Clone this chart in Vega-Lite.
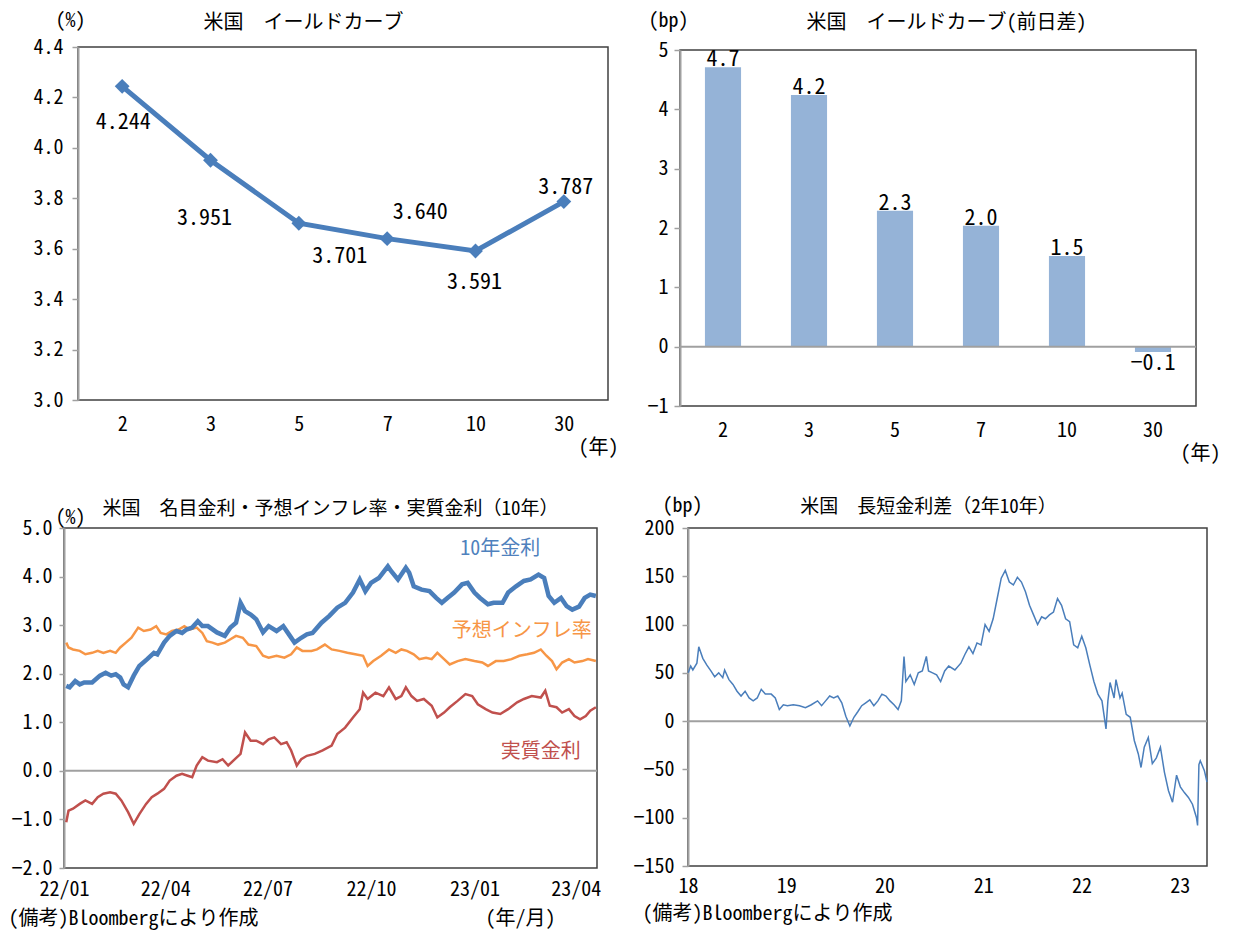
{
  "$schema": "https://vega.github.io/schema/vega-lite/v6.json",
  "background": "white",
  "padding": {"left": 5, "top": 9, "right": 5, "bottom": 5},
  "spacing": 30,
  "datasets": {
    "nominal": [
      {"date":"2022-01-03","value":1.75},{"date":"2022-01-06","value":1.72},{"date":"2022-01-11","value":1.85},{"date":"2022-01-15","value":1.78},{"date":"2022-01-19","value":1.82},{"date":"2022-01-26","value":1.82},{"date":"2022-02-02","value":1.96},{"date":"2022-02-07","value":2.02},{"date":"2022-02-12","value":1.96},{"date":"2022-02-16","value":1.99},{"date":"2022-02-20","value":1.92},{"date":"2022-02-23","value":1.78},{"date":"2022-02-27","value":1.72},{"date":"2022-03-04","value":1.96},{"date":"2022-03-09","value":2.16},{"date":"2022-03-16","value":2.30},{"date":"2022-03-22","value":2.43},{"date":"2022-03-25","value":2.40},{"date":"2022-03-31","value":2.64},{"date":"2022-04-05","value":2.78},{"date":"2022-04-11","value":2.88},{"date":"2022-04-16","value":2.84},{"date":"2022-04-20","value":2.91},{"date":"2022-04-25","value":2.95},{"date":"2022-04-30","value":3.08},{"date":"2022-05-04","value":2.98},{"date":"2022-05-09","value":2.98},{"date":"2022-05-17","value":2.85},{"date":"2022-05-24","value":2.78},{"date":"2022-05-29","value":2.95},{"date":"2022-06-03","value":3.05},{"date":"2022-06-07","value":3.46},{"date":"2022-06-11","value":3.29},{"date":"2022-06-16","value":3.22},{"date":"2022-06-21","value":3.12},{"date":"2022-06-27","value":2.85},{"date":"2022-07-02","value":2.98},{"date":"2022-07-09","value":2.88},{"date":"2022-07-15","value":2.98},{"date":"2022-07-20","value":2.81},{"date":"2022-07-25","value":2.64},{"date":"2022-07-31","value":2.74},{"date":"2022-08-05","value":2.81},{"date":"2022-08-10","value":2.84},{"date":"2022-08-18","value":3.05},{"date":"2022-08-25","value":3.19},{"date":"2022-09-01","value":3.36},{"date":"2022-09-08","value":3.46},{"date":"2022-09-15","value":3.67},{"date":"2022-09-21","value":3.94},{"date":"2022-09-26","value":3.70},{"date":"2022-10-01","value":3.87},{"date":"2022-10-08","value":3.97},{"date":"2022-10-16","value":4.21},{"date":"2022-10-19","value":4.11},{"date":"2022-10-25","value":3.94},{"date":"2022-11-01","value":4.18},{"date":"2022-11-04","value":4.08},{"date":"2022-11-08","value":3.80},{"date":"2022-11-15","value":3.73},{"date":"2022-11-22","value":3.70},{"date":"2022-11-28","value":3.56},{"date":"2022-12-03","value":3.46},{"date":"2022-12-08","value":3.56},{"date":"2022-12-14","value":3.67},{"date":"2022-12-21","value":3.84},{"date":"2022-12-26","value":3.87},{"date":"2023-01-01","value":3.67},{"date":"2023-01-06","value":3.56},{"date":"2023-01-13","value":3.43},{"date":"2023-01-18","value":3.46},{"date":"2023-01-26","value":3.46},{"date":"2023-01-31","value":3.67},{"date":"2023-02-07","value":3.80},{"date":"2023-02-14","value":3.91},{"date":"2023-02-20","value":3.94},{"date":"2023-02-27","value":4.04},{"date":"2023-03-04","value":3.97},{"date":"2023-03-08","value":3.60},{"date":"2023-03-13","value":3.46},{"date":"2023-03-19","value":3.56},{"date":"2023-03-24","value":3.39},{"date":"2023-03-29","value":3.32},{"date":"2023-04-04","value":3.38},{"date":"2023-04-09","value":3.56},{"date":"2023-04-14","value":3.63},{"date":"2023-04-19","value":3.60}
    ],
    "breakeven": [
      {"date":"2022-01-03","value":2.64},{"date":"2022-01-05","value":2.54},{"date":"2022-01-09","value":2.50},{"date":"2022-01-15","value":2.47},{"date":"2022-01-20","value":2.40},{"date":"2022-01-26","value":2.43},{"date":"2022-01-31","value":2.47},{"date":"2022-02-05","value":2.43},{"date":"2022-02-11","value":2.47},{"date":"2022-02-16","value":2.43},{"date":"2022-02-20","value":2.54},{"date":"2022-02-25","value":2.64},{"date":"2022-03-02","value":2.74},{"date":"2022-03-08","value":2.95},{"date":"2022-03-13","value":2.88},{"date":"2022-03-19","value":2.91},{"date":"2022-03-24","value":2.98},{"date":"2022-03-28","value":2.84},{"date":"2022-04-02","value":2.81},{"date":"2022-04-07","value":2.88},{"date":"2022-04-13","value":2.91},{"date":"2022-04-18","value":2.98},{"date":"2022-04-23","value":2.91},{"date":"2022-04-29","value":2.95},{"date":"2022-05-04","value":2.84},{"date":"2022-05-08","value":2.67},{"date":"2022-05-13","value":2.64},{"date":"2022-05-18","value":2.60},{"date":"2022-05-24","value":2.64},{"date":"2022-05-29","value":2.71},{"date":"2022-06-03","value":2.78},{"date":"2022-06-09","value":2.74},{"date":"2022-06-14","value":2.60},{"date":"2022-06-21","value":2.57},{"date":"2022-06-27","value":2.37},{"date":"2022-07-02","value":2.33},{"date":"2022-07-09","value":2.37},{"date":"2022-07-16","value":2.33},{"date":"2022-07-22","value":2.40},{"date":"2022-07-27","value":2.54},{"date":"2022-08-01","value":2.47},{"date":"2022-08-09","value":2.47},{"date":"2022-08-14","value":2.50},{"date":"2022-08-21","value":2.60},{"date":"2022-08-27","value":2.50},{"date":"2022-09-03","value":2.47},{"date":"2022-09-10","value":2.43},{"date":"2022-09-17","value":2.40},{"date":"2022-09-24","value":2.37},{"date":"2022-09-28","value":2.16},{"date":"2022-10-03","value":2.26},{"date":"2022-10-10","value":2.37},{"date":"2022-10-17","value":2.50},{"date":"2022-10-23","value":2.43},{"date":"2022-10-28","value":2.50},{"date":"2022-11-02","value":2.47},{"date":"2022-11-08","value":2.40},{"date":"2022-11-13","value":2.30},{"date":"2022-11-19","value":2.33},{"date":"2022-11-24","value":2.30},{"date":"2022-11-29","value":2.43},{"date":"2022-12-05","value":2.30},{"date":"2022-12-10","value":2.19},{"date":"2022-12-17","value":2.26},{"date":"2022-12-24","value":2.30},{"date":"2023-01-01","value":2.26},{"date":"2023-01-08","value":2.23},{"date":"2023-01-13","value":2.16},{"date":"2023-01-20","value":2.26},{"date":"2023-01-27","value":2.26},{"date":"2023-02-03","value":2.30},{"date":"2023-02-10","value":2.37},{"date":"2023-02-17","value":2.40},{"date":"2023-02-23","value":2.43},{"date":"2023-03-01","value":2.50},{"date":"2023-03-06","value":2.37},{"date":"2023-03-11","value":2.26},{"date":"2023-03-15","value":2.09},{"date":"2023-03-20","value":2.23},{"date":"2023-03-26","value":2.30},{"date":"2023-03-31","value":2.23},{"date":"2023-04-07","value":2.26},{"date":"2023-04-12","value":2.30},{"date":"2023-04-19","value":2.26}
    ],
    "real": [
      {"date":"2022-01-03","value":-1.06},{"date":"2022-01-05","value":-0.82},{"date":"2022-01-09","value":-0.78},{"date":"2022-01-15","value":-0.68},{"date":"2022-01-20","value":-0.61},{"date":"2022-01-26","value":-0.68},{"date":"2022-01-31","value":-0.54},{"date":"2022-02-05","value":-0.47},{"date":"2022-02-11","value":-0.44},{"date":"2022-02-16","value":-0.47},{"date":"2022-02-21","value":-0.61},{"date":"2022-02-27","value":-0.85},{"date":"2022-03-04","value":-1.09},{"date":"2022-03-09","value":-0.89},{"date":"2022-03-15","value":-0.68},{"date":"2022-03-20","value":-0.54},{"date":"2022-03-25","value":-0.47},{"date":"2022-03-31","value":-0.37},{"date":"2022-04-05","value":-0.20},{"date":"2022-04-11","value":-0.10},{"date":"2022-04-16","value":-0.06},{"date":"2022-04-21","value":-0.10},{"date":"2022-04-25","value":-0.13},{"date":"2022-04-29","value":0.11},{"date":"2022-05-04","value":0.28},{"date":"2022-05-09","value":0.21},{"date":"2022-05-17","value":0.18},{"date":"2022-05-22","value":0.24},{"date":"2022-05-27","value":0.11},{"date":"2022-06-02","value":0.24},{"date":"2022-06-07","value":0.35},{"date":"2022-06-11","value":0.79},{"date":"2022-06-16","value":0.62},{"date":"2022-06-21","value":0.62},{"date":"2022-06-27","value":0.55},{"date":"2022-07-02","value":0.65},{"date":"2022-07-07","value":0.69},{"date":"2022-07-13","value":0.55},{"date":"2022-07-18","value":0.59},{"date":"2022-07-22","value":0.42},{"date":"2022-07-27","value":0.11},{"date":"2022-07-31","value":0.24},{"date":"2022-08-05","value":0.31},{"date":"2022-08-12","value":0.35},{"date":"2022-08-19","value":0.42},{"date":"2022-08-27","value":0.52},{"date":"2022-09-01","value":0.76},{"date":"2022-09-08","value":0.89},{"date":"2022-09-15","value":1.10},{"date":"2022-09-21","value":1.27},{"date":"2022-09-24","value":1.61},{"date":"2022-09-28","value":1.48},{"date":"2022-10-05","value":1.61},{"date":"2022-10-12","value":1.54},{"date":"2022-10-17","value":1.72},{"date":"2022-10-23","value":1.48},{"date":"2022-10-28","value":1.54},{"date":"2022-11-01","value":1.72},{"date":"2022-11-06","value":1.54},{"date":"2022-11-11","value":1.44},{"date":"2022-11-17","value":1.48},{"date":"2022-11-24","value":1.34},{"date":"2022-11-29","value":1.10},{"date":"2022-12-05","value":1.20},{"date":"2022-12-10","value":1.31},{"date":"2022-12-17","value":1.44},{"date":"2022-12-24","value":1.58},{"date":"2022-12-30","value":1.54},{"date":"2023-01-04","value":1.37},{"date":"2023-01-11","value":1.27},{"date":"2023-01-17","value":1.20},{"date":"2023-01-24","value":1.17},{"date":"2023-01-31","value":1.27},{"date":"2023-02-08","value":1.41},{"date":"2023-02-14","value":1.48},{"date":"2023-02-21","value":1.54},{"date":"2023-03-01","value":1.51},{"date":"2023-03-05","value":1.65},{"date":"2023-03-09","value":1.34},{"date":"2023-03-15","value":1.31},{"date":"2023-03-20","value":1.20},{"date":"2023-03-26","value":1.27},{"date":"2023-03-31","value":1.13},{"date":"2023-04-05","value":1.06},{"date":"2023-04-10","value":1.13},{"date":"2023-04-14","value":1.24},{"date":"2023-04-19","value":1.31}
    ],
    "spread": [
      {"date":"2018-01-02","value":50},{"date":"2018-01-11","value":57},{"date":"2018-01-19","value":53},{"date":"2018-02-03","value":60},{"date":"2018-02-10","value":77},{"date":"2018-02-25","value":65},{"date":"2018-03-12","value":58},{"date":"2018-03-27","value":52},{"date":"2018-04-10","value":46},{"date":"2018-04-25","value":50},{"date":"2018-05-10","value":45},{"date":"2018-05-17","value":53},{"date":"2018-06-02","value":43},{"date":"2018-06-17","value":38},{"date":"2018-07-02","value":31},{"date":"2018-07-17","value":26},{"date":"2018-08-01","value":31},{"date":"2018-08-16","value":24},{"date":"2018-08-31","value":21},{"date":"2018-09-15","value":24},{"date":"2018-09-30","value":33},{"date":"2018-10-15","value":28},{"date":"2018-11-06","value":28},{"date":"2018-11-21","value":24},{"date":"2018-12-06","value":12},{"date":"2018-12-21","value":17},{"date":"2019-01-05","value":16},{"date":"2019-01-27","value":17},{"date":"2019-02-19","value":16},{"date":"2019-03-13","value":14},{"date":"2019-04-04","value":17},{"date":"2019-04-27","value":21},{"date":"2019-05-12","value":16},{"date":"2019-05-27","value":21},{"date":"2019-06-11","value":26},{"date":"2019-06-26","value":24},{"date":"2019-07-11","value":26},{"date":"2019-07-26","value":19},{"date":"2019-08-10","value":5},{"date":"2019-08-25","value":-5},{"date":"2019-09-09","value":4},{"date":"2019-09-24","value":10},{"date":"2019-10-08","value":16},{"date":"2019-10-23","value":19},{"date":"2019-11-07","value":22},{"date":"2019-11-22","value":16},{"date":"2019-12-07","value":21},{"date":"2019-12-22","value":28},{"date":"2020-01-06","value":26},{"date":"2020-01-21","value":21},{"date":"2020-02-05","value":17},{"date":"2020-02-20","value":12},{"date":"2020-03-03","value":21},{"date":"2020-03-13","value":67},{"date":"2020-03-20","value":41},{"date":"2020-04-05","value":48},{"date":"2020-04-20","value":38},{"date":"2020-05-05","value":50},{"date":"2020-05-20","value":52},{"date":"2020-06-04","value":67},{"date":"2020-06-12","value":52},{"date":"2020-06-27","value":50},{"date":"2020-07-12","value":48},{"date":"2020-07-27","value":41},{"date":"2020-08-11","value":52},{"date":"2020-08-26","value":57},{"date":"2020-09-18","value":53},{"date":"2020-10-10","value":60},{"date":"2020-10-25","value":69},{"date":"2020-11-09","value":77},{"date":"2020-11-24","value":70},{"date":"2020-12-09","value":81},{"date":"2020-12-24","value":79},{"date":"2021-01-08","value":100},{"date":"2021-01-23","value":93},{"date":"2021-02-07","value":106},{"date":"2021-02-22","value":127},{"date":"2021-03-09","value":148},{"date":"2021-03-24","value":156},{"date":"2021-04-08","value":144},{"date":"2021-04-23","value":141},{"date":"2021-05-08","value":149},{"date":"2021-05-23","value":144},{"date":"2021-06-07","value":134},{"date":"2021-06-22","value":120},{"date":"2021-07-07","value":110},{"date":"2021-07-22","value":100},{"date":"2021-08-06","value":108},{"date":"2021-08-20","value":106},{"date":"2021-09-04","value":110},{"date":"2021-09-19","value":113},{"date":"2021-10-04","value":127},{"date":"2021-10-19","value":120},{"date":"2021-11-03","value":106},{"date":"2021-11-18","value":103},{"date":"2021-12-03","value":79},{"date":"2021-12-18","value":76},{"date":"2022-01-02","value":88},{"date":"2022-01-17","value":76},{"date":"2022-02-01","value":58},{"date":"2022-02-16","value":41},{"date":"2022-03-03","value":28},{"date":"2022-03-18","value":21},{"date":"2022-04-02","value":-8},{"date":"2022-04-09","value":21},{"date":"2022-04-17","value":40},{"date":"2022-05-02","value":24},{"date":"2022-05-09","value":43},{"date":"2022-05-24","value":24},{"date":"2022-06-01","value":29},{"date":"2022-06-16","value":7},{"date":"2022-07-01","value":4},{"date":"2022-07-16","value":-20},{"date":"2022-07-31","value":-34},{"date":"2022-08-10","value":-48},{"date":"2022-08-22","value":-27},{"date":"2022-09-06","value":-17},{"date":"2022-09-21","value":-44},{"date":"2022-10-06","value":-38},{"date":"2022-10-21","value":-27},{"date":"2022-11-05","value":-53},{"date":"2022-11-20","value":-72},{"date":"2022-12-05","value":-84},{"date":"2022-12-20","value":-56},{"date":"2023-01-03","value":-68},{"date":"2023-01-18","value":-74},{"date":"2023-02-02","value":-79},{"date":"2023-02-17","value":-86},{"date":"2023-03-04","value":-100},{"date":"2023-03-08","value":-108},{"date":"2023-03-13","value":-45},{"date":"2023-03-18","value":-41},{"date":"2023-04-02","value":-51},{"date":"2023-04-12","value":-63}
    ]
  },
  "vconcat": [
    {
      "spacing": 8,
      "hconcat": [
        {
          "bounds": "flush",
          "spacing": 10,
          "hconcat": [
            {
              "width": 4, "height": 1,
              "data": {"values": [{}]},
              "mark": {"type": "text", "text": ""},
              "view": {"stroke": null}
            },
            {
              "width": 530, "height": 353,
              "data": {"values": [
                {"maturity":"2","yield":4.244},{"maturity":"3","yield":3.951},{"maturity":"5","yield":3.701},
                {"maturity":"7","yield":3.640},{"maturity":"10","yield":3.591},{"maturity":"30","yield":3.787}
              ]},
              "resolve": {"axis": {"x": "independent", "y": "independent"}},
              "encoding": {
                "x": {"field":"maturity","type":"ordinal","sort":null,"scale":{"type":"point","padding":0.5},"axis":null},
                "y": {"field":"yield","type":"quantitative","scale":{"domain":[3.0,4.4],"nice":false,"zero":false},"axis":null}
              },
              "layer": [
                {
                  "mark": {"type":"line","color":"#4a7ebb","strokeWidth":5},
                  "encoding": {
                    "x": {"field":"maturity","type":"ordinal","sort":null,"scale":{"type":"point","padding":0.5},
                      "axis":{"labelAngle":0,"ticks":false,"tickSize":0,"domain":false,"labelPadding":14,
                        "title":"(年)","titleAngle":0,"titleX":520,"titleY":47,"titleAlign":"center","titleBaseline":"middle"}},
                    "y": {"field":"yield","type":"quantitative","scale":{"domain":[3.0,4.4],"nice":false,"zero":false},
                      "axis":{"values":[3,3.2,3.4,3.6,3.8,4,4.2,4.4],"format":".1f","tickSize":6,"labelPadding":9,
                        "title":"(%)","titleAngle":0,"titleX":-8,"titleY":-27,"titleAlign":"center","titleBaseline":"middle"}}
                  }
                },
                {
                  "mark": {"type":"point","shape":"diamond","filled":true,"size":220,"color":"#4a7ebb","opacity":1},
                  "encoding": {
                    "y": {"field":"yield","type":"quantitative",
                      "axis":{"orient":"right","labels":false,"ticks":false,"domain":false,
                        "title":"米国　イールドカーブ","titleAngle":0,"titleX":-305,"titleY":-25,"titleAlign":"center","titleBaseline":"middle","titleFontSize":20}}
                  }
                },
                {"transform":[{"filter":"datum.maturity === '2'"}],"mark":{"type":"text","dx":1,"dy":36,"fontSize":22},"encoding":{"text":{"field":"yield","type":"quantitative","format":".3f"}}},
                {"transform":[{"filter":"datum.maturity === '3'"}],"mark":{"type":"text","dx":-6,"dy":58,"fontSize":22},"encoding":{"text":{"field":"yield","type":"quantitative","format":".3f"}}},
                {"transform":[{"filter":"datum.maturity === '5'"}],"mark":{"type":"text","dx":41,"dy":33,"fontSize":22},"encoding":{"text":{"field":"yield","type":"quantitative","format":".3f"}}},
                {"transform":[{"filter":"datum.maturity === '7'"}],"mark":{"type":"text","dx":33,"dy":-27,"fontSize":22},"encoding":{"text":{"field":"yield","type":"quantitative","format":".3f"}}},
                {"transform":[{"filter":"datum.maturity === '10'"}],"mark":{"type":"text","dx":-1,"dy":31,"fontSize":22},"encoding":{"text":{"field":"yield","type":"quantitative","format":".3f"}}},
                {"transform":[{"filter":"datum.maturity === '30'"}],"mark":{"type":"text","dx":2,"dy":-15,"fontSize":22},"encoding":{"text":{"field":"yield","type":"quantitative","format":".3f"}}}
              ]
            }
          ]
        },
        {
          "bounds": "flush",
          "spacing": 0,
          "vconcat": [
            {
              "width": 1, "height": 3,
              "data": {"values": [{}]},
              "mark": {"type": "text", "text": ""},
              "view": {"stroke": null}
            },
            {
              "width": 516, "height": 356,
              "data": {"values": [
                {"maturity":"2","change":4.71},{"maturity":"3","change":4.24},{"maturity":"5","change":2.29},
                {"maturity":"7","change":2.04},{"maturity":"10","change":1.53},{"maturity":"30","change":-0.09}
              ]},
              "resolve": {"axis": {"x": "independent", "y": "independent"}},
              "layer": [
                {
                  "mark": {"type":"bar","color":"#95b3d7"},
                  "encoding": {
                    "x": {"field":"maturity","type":"ordinal","sort":null,"scale":{"paddingInner":0.58,"paddingOuter":0.29},
                      "axis":{"labelAngle":0,"ticks":false,"tickSize":0,"domain":false,"labelPadding":14,
                        "title":"(年)","titleAngle":0,"titleX":520,"titleY":47,"titleAlign":"center","titleBaseline":"middle"}},
                    "y": {"field":"change","type":"quantitative","scale":{"domain":[-1,5],"nice":false},
                      "axis":{"values":[-1,0,1,2,3,4,5],"format":"d","tickSize":6,"labelPadding":6,"minExtent":52,
                        "title":"(bp)","titleAngle":0,"titleX":-12,"titleY":-30,"titleAlign":"center","titleBaseline":"middle"}}
                  }
                },
                {
                  "data": {"values": [{}]},
                  "mark": {"type":"rule","color":"#a0a0a0","strokeWidth":2},
                  "encoding": {
                    "y": {"datum":0,"type":"quantitative",
                      "axis":{"orient":"right","labels":false,"ticks":false,"domain":false,
                        "title":"米国　イールドカーブ(前日差)","titleAngle":0,"titleX":-250,"titleY":-28,"titleAlign":"center","titleBaseline":"middle","titleFontSize":20}}
                  }
                },
                {
                  "transform":[{"filter":"datum.change >= 0"}],
                  "mark": {"type":"text","baseline":"alphabetic","dy":-1,"fontSize":22},
                  "encoding": {
                    "x": {"field":"maturity","type":"ordinal","sort":null,"axis":null},
                    "y": {"field":"change","type":"quantitative","axis":null},
                    "text": {"field":"change","type":"quantitative","format":".1f"}
                  }
                },
                {
                  "transform":[{"filter":"datum.change < 0"}],
                  "mark": {"type":"text","baseline":"top","dy":1,"fontSize":22},
                  "encoding": {
                    "x": {"field":"maturity","type":"ordinal","sort":null,"axis":null},
                    "y": {"field":"change","type":"quantitative","axis":null},
                    "text": {"field":"change","type":"quantitative","format":".1f"}
                  }
                }
              ]
            }
          ]
        }
      ]
    },
    {
      "spacing": 25,
      "hconcat": [
        {
          "width": 533, "height": 340,
          "resolve": {"axis": {"x": "independent", "y": "independent"}},
          "layer": [
            {
              "data": {"values": [{}]},
              "mark": {"type":"rule","color":"#a0a0a0","strokeWidth":2},
              "encoding": {
                "y": {"datum":0,"type":"quantitative","scale":{"domain":[-2,5],"nice":false},
                  "axis":{"orient":"right","labels":false,"ticks":false,"domain":false,
                    "title":"米国　名目金利・予想インフレ率・実質金利（10年）","titleAngle":0,"titleX":-267,"titleY":-20,"titleAlign":"center","titleBaseline":"middle","titleFontSize":19}}
              }
            },
            {
              "data": {"name":"breakeven"},
              "mark": {"type":"line","color":"#f79646","strokeWidth":2.5},
              "encoding": {
                "x": {"field":"date","type":"temporal",
                  "scale":{"type":"utc","domain":[{"year":2022,"month":1,"date":1,"utc":true},{"year":2023,"month":4,"date":20,"utc":true}]},
                  "axis":{"orient":"bottom","labels":false,"ticks":false,"domain":false,
                    "title":"(備考)Bloombergにより作成","titleAngle":0,"titleX":-56,"titleY":50,"titleAlign":"left","titleBaseline":"middle"}},
                "y": {"field":"value","type":"quantitative","axis":null}
              }
            },
            {
              "data": {"name":"real"},
              "mark": {"type":"line","color":"#c0504d","strokeWidth":2.5},
              "encoding": {
                "x": {"field":"date","type":"temporal","axis":null},
                "y": {"field":"value","type":"quantitative","axis":null}
              }
            },
            {
              "data": {"name":"nominal"},
              "mark": {"type":"line","color":"#4a7ebb","strokeWidth":4.5},
              "encoding": {
                "x": {"field":"date","type":"temporal",
                  "axis":{"orient":"bottom","values":[
                    {"year":2022,"month":1,"date":1,"utc":true},{"year":2022,"month":4,"date":1,"utc":true},
                    {"year":2022,"month":7,"date":1,"utc":true},{"year":2022,"month":10,"date":1,"utc":true},
                    {"year":2023,"month":1,"date":1,"utc":true},{"year":2023,"month":4,"date":1,"utc":true}],
                    "format":"%y/%m","labelAngle":0,"ticks":false,"tickSize":0,"domain":false,"labelPadding":11,"labelFlush":false,"labelOverlap":false,
                    "title":"(年/月)","titleAngle":0,"titleX":456,"titleY":50,"titleAlign":"center","titleBaseline":"middle"}},
                "y": {"field":"value","type":"quantitative",
                  "axis":{"orient":"left","values":[-2,-1,0,1,2,3,4,5],"format":".1f","tickSize":5,"labelPadding":7,"minExtent":58,
                    "title":"(%)","titleAngle":0,"titleX":6,"titleY":-11,"titleAlign":"center","titleBaseline":"middle"}}
              }
            },
            {
              "data": {"values": [{}]},
              "mark": {"type":"text","text":"10年金利","color":"#4f81bd","fontSize":20},
              "encoding": {
                "x": {"datum":{"year":2023,"month":1,"date":24,"utc":true},"type":"temporal","axis":null},
                "y": {"datum":4.57,"type":"quantitative","axis":null}
              }
            },
            {
              "data": {"values": [{}]},
              "mark": {"type":"text","text":"予想インフレ率","color":"#f79646","fontSize":20},
              "encoding": {
                "x": {"datum":{"year":2023,"month":2,"date":12,"utc":true},"type":"temporal","axis":null},
                "y": {"datum":2.88,"type":"quantitative","axis":null}
              }
            },
            {
              "data": {"values": [{}]},
              "mark": {"type":"text","text":"実質金利","color":"#c0504d","fontSize":20},
              "encoding": {
                "x": {"datum":{"year":2023,"month":3,"date":1,"utc":true},"type":"temporal","axis":null},
                "y": {"datum":0.39,"type":"quantitative","axis":null}
              }
            }
          ]
        },
        {
          "width": 519, "height": 338,
          "resolve": {"axis": {"x": "independent", "y": "independent"}},
          "layer": [
            {
              "data": {"values": [{}]},
              "mark": {"type":"rule","color":"#a0a0a0","strokeWidth":2},
              "encoding": {
                "y": {"datum":0,"type":"quantitative","scale":{"domain":[-150,200],"nice":false},
                  "axis":{"orient":"right","labels":false,"ticks":false,"domain":false,
                    "title":"米国　長短金利差（2年10年）","titleAngle":0,"titleX":-279,"titleY":-22,"titleAlign":"center","titleBaseline":"middle","titleFontSize":19}}
              }
            },
            {
              "data": {"name":"spread"},
              "mark": {"type":"line","color":"#4a7ebb","strokeWidth":1.5},
              "encoding": {
                "x": {"field":"date","type":"temporal",
                  "scale":{"type":"utc","domain":[{"year":2018,"month":1,"date":1,"utc":true},{"year":2023,"month":4,"date":12,"utc":true}]},
                  "axis":{"orient":"bottom","values":[
                    {"year":2018,"month":1,"date":1,"utc":true},{"year":2019,"month":1,"date":1,"utc":true},
                    {"year":2020,"month":1,"date":1,"utc":true},{"year":2021,"month":1,"date":1,"utc":true},
                    {"year":2022,"month":1,"date":1,"utc":true},{"year":2023,"month":1,"date":1,"utc":true}],
                    "format":"%y","labelAngle":0,"ticks":false,"tickSize":0,"domain":false,"labelPadding":10,"labelFlush":false,"labelOverlap":false,
                    "title":"(備考)Bloombergにより作成","titleAngle":0,"titleX":-46,"titleY":47,"titleAlign":"left","titleBaseline":"middle"}},
                "y": {"field":"value","type":"quantitative",
                  "axis":{"orient":"left","values":[-150,-100,-50,0,50,100,150,200],"format":"d","tickSize":6,"labelPadding":8,"minExtent":56,
                    "title":"(bp)","titleAngle":0,"titleX":-6,"titleY":-23,"titleAlign":"center","titleBaseline":"middle"}}
              }
            }
          ]
        }
      ]
    }
  ],
  "config": {
    "font": "Noto Sans Mono CJK JP, Noto Sans CJK JP, sans-serif",
    "view": {"stroke": "#404040", "strokeWidth": 1.5},
    "axis": {
      "labelFont": "Noto Sans Mono CJK JP, Noto Sans CJK JP, sans-serif",
      "titleFont": "Noto Sans Mono CJK JP, Noto Sans CJK JP, sans-serif",
      "labelFontSize": 20, "titleFontSize": 20, "titleFontWeight": "normal",
      "labelColor": "#000000", "titleColor": "#000000", "grid": false,
      "domainColor": "#a0a0a0", "domainWidth": 2, "tickColor": "#a0a0a0", "tickWidth": 1.5
    },
    "text": {"font": "Noto Sans Mono CJK JP, Noto Sans CJK JP, sans-serif", "color": "#000000"}
  }
}
